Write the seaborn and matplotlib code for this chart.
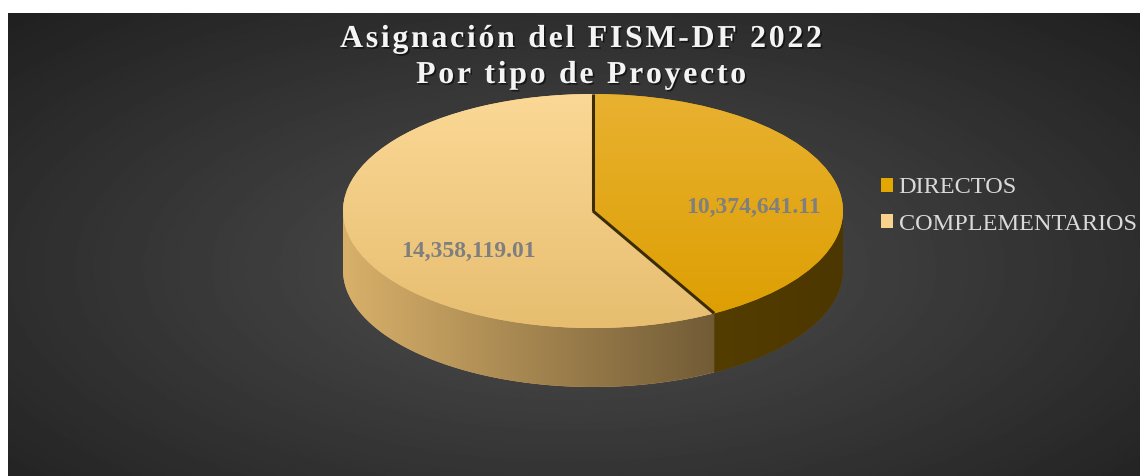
import numpy as np
import pandas as pd
import seaborn as sns
import matplotlib.pyplot as plt
import matplotlib.patheffects as pe
from matplotlib.path import Path
from matplotlib.patches import PathPatch

# Datos de la grafica
categorias = ['DIRECTOS', 'COMPLEMENTARIOS']
montos = [10374641.11, 14358119.01]
titulo = ['Asignación del FISM-DF 2022', 'Por tipo de Proyecto']

# Estilos
colores = ['#E4A600', '#F8D38D']
sup_grad = [((232, 177, 48), (221, 158, 0)), ((251, 216, 150), (231, 190, 112))]
lado_grad = [((108, 78, 4), (76, 55, 0)), ((216, 176, 106), (78, 62, 36))]

df = pd.DataFrame({'tipo': categorias, 'monto': montos})

sns.set_theme(style='white')
plt.rcParams['font.family'] = ['Liberation Serif', 'DejaVu Serif']

fig = plt.figure(figsize=(11.4, 4.76), dpi=100)
fig.patch.set_facecolor('white')

# Fondo con degradado radial
bg = fig.add_axes([8 / 1140, 0, 1 - 8 / 1140, 1 - 13 / 476])
bg.set_axis_off()
yy, xx = np.mgrid[0:1:300j, 0:1:600j]
d = np.sqrt(((xx - 0.5) / 0.5) ** 2 + ((yy - 0.45) / 0.55) ** 2)
g = np.clip(0.31 - 0.13 * d, 0.12, 1)
bg.imshow(g, cmap='gray', vmin=0, vmax=1, extent=(0, 1, 0, 1), aspect='auto', origin='lower')
bg.set_xlim(0, 1)
bg.set_ylim(0, 1)

# Pastel 3D (elipse + profundidad)
ax = fig.add_axes([0, 0, 1, 1])
ax.patch.set_alpha(0)
cx, cy, rx, ry, prof = 593, 211, 250, 117, 59
dz = prof / ry

wedges, _ = ax.pie(df['monto'], colors=colores, startangle=90, counterclock=False,
                   wedgeprops=dict(linewidth=0, zorder=3))


def gradiente(c1, c2, horizontal=True, n=256):
    t = np.linspace(0, 1, n)[:, None]
    arr = (np.array(c1) * (1 - t) + np.array(c2) * t) / 255
    return arr[None, :, :] if horizontal else arr[:, None, :]


for w, (l1, l2), (s1, s2) in zip(wedges, lado_grad, sup_grad):
    th = np.deg2rad(np.linspace(w.theta1, w.theta2, 500))
    vis = th[np.sin(th) <= 0]
    if len(vis) > 1:
        top = np.c_[np.cos(vis), np.sin(vis)]
        bot = np.c_[np.cos(vis), np.sin(vis) - dz][::-1]
        verts = np.vstack([top, bot, top[:1]])
        lado = PathPatch(Path(verts), facecolor=(np.array(l1) / 255), edgecolor='none', zorder=1)
        ax.add_patch(lado)
        im = ax.imshow(gradiente(l1, l2), extent=(-1, 1, -1 - dz, 0), aspect='auto', zorder=2)
        im.set_clip_path(lado)
    # degradado de la cara superior
    im2 = ax.imshow(gradiente(s1, s2, horizontal=False), extent=(-1, 1, -1, 1),
                    aspect='auto', origin='upper', zorder=4)
    im2.set_clip_path(w)

# lineas de corte entre rebanadas
for ang in {round(w.theta1, 6) % 360 for w in wedges}:
    a = np.deg2rad(ang)
    ax.plot([0, np.cos(a)], [0, np.sin(a)], color='#3b2c06', lw=2.2, zorder=5,
            solid_capstyle='butt')

# etiquetas de datos
pos_etq = [(0.64, 0.03), (-0.50, -0.35)]
for (x, y), v in zip(pos_etq, df['monto']):
    ax.text(x, y, f'{v:,.2f}', ha='center', va='center', fontsize=17,
            fontweight='bold', color='#7F7F7F', zorder=6)

ax.set_aspect('auto')
ax.set_xlim(-cx / rx, (1140 - cx) / rx)
ax.set_ylim(-(476 - cy) / ry, cy / ry)
ax.set_axis_off()

# Leyenda
fig.legend(wedges, categorias, loc='center left', bbox_to_anchor=(881 / 1140, 1 - 206 / 476),
           frameon=False, fontsize=17.5, labelcolor='#D9D9D9', handlelength=0.5,
           handleheight=0.5, handletextpad=0.22, labelspacing=0.62,
           borderpad=0, borderaxespad=0)

# Titulo con espaciado entre letras
hair = '\u200a'
sombra = [pe.withSimplePatchShadow(offset=(1.2, -1.2), shadow_rgbFace='black', alpha=0.55)]
for linea, ybase in zip(titulo, [47, 83]):
    fig.text(581 / 1140, 1 - ybase / 476, hair.join(linea), ha='center', va='baseline',
             fontsize=23, fontweight='bold', color='#F4F4F4', path_effects=sombra)

fig.savefig('out.png', dpi=100)
